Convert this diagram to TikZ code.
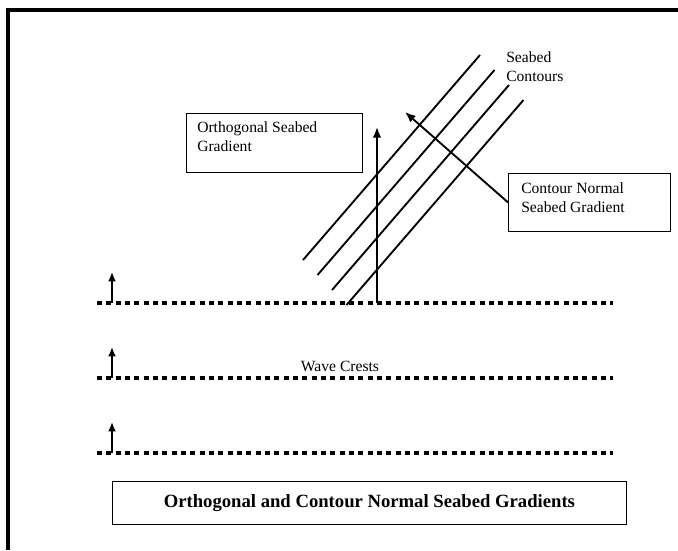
\documentclass[tikz,border=0pt]{standalone}
\usepackage{fontspec}
\setmainfont{Liberation Serif}
\usetikzlibrary{positioning,arrows.meta}
\begin{document}
\begin{tikzpicture}[x=0.75pt,y=-0.75pt,font=\fontsize{11.7}{14.3}\selectfont]
\tikzset{box/.style={draw,semithick,anchor=north west,inner sep=0pt},
  boxtext/.style={anchor=north west,align=left,inner sep=0pt},
  crest/.style={line width=3.4pt,dash pattern=on 3.8pt off 3.2pt},
  contour/.style={line width=1.4pt},
  grad/.style={->,>={Latex[length=8pt,width=6.5pt]},line width=1.4pt}}
\useasboundingbox (0,0) rectangle (678,550);
% frame
\draw[line width=2.6pt] (8,550) -- (8,10) -- (678,10);
% wave crests
\foreach \y in {303,378,453}{
  \draw[crest] (97,\y) -- (613,\y);
  \draw[grad,>={Latex[length=7pt,width=6pt]}] (112,\y) -- (112,\y-31);
}
\node (crests) at (340,366) {Wave Crests};
% seabed contours
\foreach \i in {0,1,2,3}
  \draw[contour] (303+14.5*\i,260+15*\i) -- (480+14.5*\i,55+15*\i);
\node[boxtext] (contours) at (506,51) {Seabed\\Contours};
% orthogonal gradient
\node[box,minimum width=132pt,minimum height=44.25pt] (orthobox) at (186,113) {};
\node[boxtext] (orthotext) at (197,121) {Orthogonal Seabed\\Gradient};
\coordinate (obase) at (377,303);
\coordinate (otip) at (377,127);
\draw[grad] (obase) -- (otip);
% contour normal gradient
\node[box,minimum width=121.5pt,minimum height=43.5pt] (normbox) at (508,173) {};
\node[boxtext] (normtext) at (521,182) {Contour Normal\\Seabed Gradient};
\coordinate (ntip) at (405,112);
\draw[grad] (normbox.west) -- (ntip);
% title
\node[box,minimum width=385.5pt,minimum height=32.25pt] (titlebox) at (112,481) {};
\node[font=\fontsize{14}{17}\selectfont\bfseries] (title) at (titlebox.center) {Orthogonal and Contour Normal Seabed Gradients};
\end{tikzpicture}
\end{document}
